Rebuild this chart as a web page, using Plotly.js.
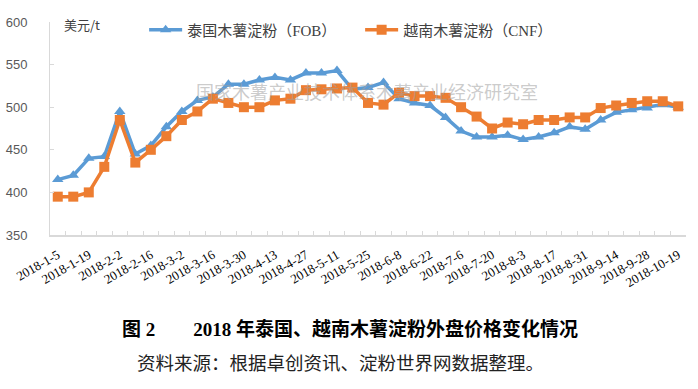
<!DOCTYPE html>
<html>
<head>
<meta charset="utf-8">
<script src="https://cdn.plot.ly/plotly-3.0.1.min.js"></script>
<style>html,body{margin:0;padding:0;background:#fff;}#chart{width:698px;height:389px;}</style>
</head>
<body>
<div id="chart"></div>
<script>
var categories = ["2018-1-5","2018-1-12","2018-1-19","2018-1-26","2018-2-2","2018-2-9","2018-2-16","2018-2-23","2018-3-2","2018-3-9","2018-3-16","2018-3-23","2018-3-30","2018-4-6","2018-4-13","2018-4-20","2018-4-27","2018-5-4","2018-5-11","2018-5-18","2018-5-25","2018-6-1","2018-6-8","2018-6-15","2018-6-22","2018-6-29","2018-7-6","2018-7-13","2018-7-20","2018-7-27","2018-8-3","2018-8-10","2018-8-17","2018-8-24","2018-8-31","2018-9-7","2018-9-14","2018-9-21","2018-9-28","2018-10-12","2018-10-19"];
var thaiFOB = [415,420,440,442,495,445,455,477,495,508,512,527,527,532,535,532,540,540,543,521,523,529,510,505,502,488,472,465,465,467,462,465,470,477,474,485,494,497,499,503,500];
var vietCNF = [395,395,400,430,485,435,450,466,485,495,510,505,500,500,508,510,520,521,522,523,505,503,517,513,513,511,500,489,475,482,480,485,485,488,488,499,502,505,507,507,501];
var seriesNames = ["泰国木薯淀粉（FOB）","越南木薯淀粉（CNF）"];
var unitLabel = "美元/t";
var watermark = "国家木薯产业技术体系木薯产业经济研究室";
var captionTitle = "图 2\u2003\u20032018 年泰国、越南木薯淀粉外盘价格变化情况";
var captionSource = "资料来源：根据卓创资讯、淀粉世界网数据整理。";

var tickText = categories.map(function(c, i){ return i % 2 === 0 ? c : ""; });

var traces = [
  {x: categories, y: thaiFOB, name: seriesNames[0], type: "scatter", mode: "lines+markers",
   line: {color: "#5B9BD5", width: 3.5}, marker: {symbol: "triangle-up", size: 10, color: "#5B9BD5"}},
  {x: categories, y: vietCNF, name: seriesNames[1], type: "scatter", mode: "lines+markers",
   line: {color: "#ED7D31", width: 3.5}, marker: {symbol: "square", size: 10, color: "#ED7D31"}}
];

var layout = {
  width: 698, height: 389,
  margin: {l: 50, r: 12, t: 22, b: 154, pad: 0},
  paper_bgcolor: "#fff", plot_bgcolor: "#fff",
  showlegend: true,
  legend: {orientation: "h", x: 0.148, xanchor: "left", y: 0.962, yanchor: "middle",
           font: {family: "Liberation Serif, Noto Sans CJK SC", size: 15, color: "#404040"},
           bgcolor: "rgba(0,0,0,0)", itemwidth: 33, entrywidth: 168, entrywidthmode: "pixels"},
  xaxis: {type: "category", categoryorder: "array", categoryarray: categories, automargin: false,
          range: [-0.5, categories.length - 0.5], autorange: false,
          tickmode: "array", tickvals: categories, ticktext: tickText,
          tickson: "boundaries", ticks: "inside", ticklen: 4, tickcolor: "#d9d9d9",
          showline: true, linecolor: "#d9d9d9", linewidth: 1.5, showgrid: false, zeroline: false,
          tickangle: -30, ticklabelstandoff: 6,
          tickfont: {family: "Liberation Serif", size: 13, color: "#000"}},
  yaxis: {range: [350, 600], autorange: false, dtick: 50, tick0: 350, showgrid: false, zeroline: false, automargin: false,
          showline: true, linecolor: "#d9d9d9", linewidth: 1,
          ticks: "inside", ticklen: 4, tickcolor: "#d9d9d9", ticklabelstandoff: 19,
          tickfont: {family: "Liberation Sans, Arial", size: 13, color: "#595959"}},
  annotations: [
    {text: unitLabel, xref: "paper", yref: "paper", x: 0.019, y: 0.986, xanchor: "left", yanchor: "middle",
     showarrow: false, font: {family: "Noto Sans CJK SC", size: 13, color: "#404040"}},
    {text: watermark, xref: "paper", yref: "paper", x: 0.498, y: 0.676, xanchor: "center", yanchor: "middle",
     showarrow: false, font: {family: "Noto Sans CJK SC", size: 18, color: "rgba(160,160,160,0.55)"}},
    {text: "<b>" + captionTitle + "</b>", xref: "paper", yref: "paper", x: 0.472, y: -0.441, xanchor: "center", yanchor: "middle",
     showarrow: false, font: {family: "Liberation Serif, Noto Sans CJK SC", size: 19, color: "#000"}},
    {text: captionSource, xref: "paper", yref: "paper", x: 0.457, y: -0.596, xanchor: "center", yanchor: "middle",
     showarrow: false, font: {family: "Noto Sans CJK SC", size: 18.5, color: "#222"}}
  ]
};

Plotly.newPlot("chart", traces, layout, {staticPlot: true, displayModeBar: false});
</script>
</body>
</html>
